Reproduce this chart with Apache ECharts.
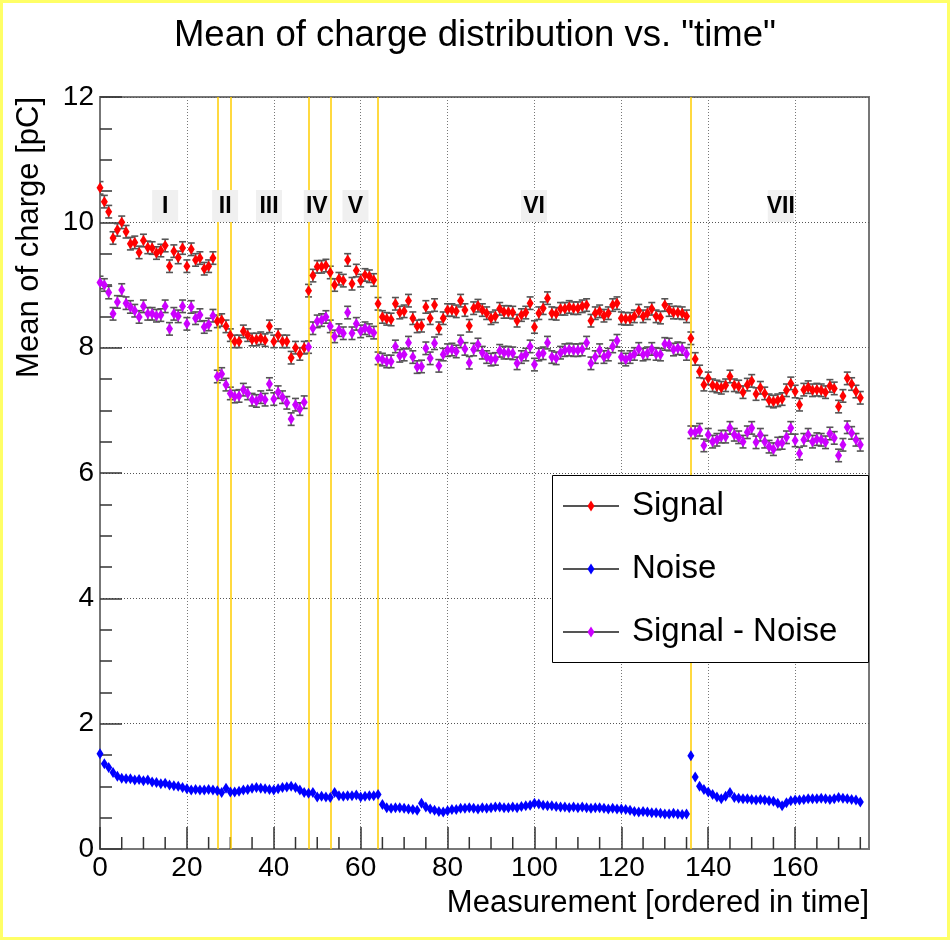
<!DOCTYPE html>
<html><head><meta charset="utf-8">
<script src="https://cdn.jsdelivr.net/npm/echarts@6/dist/echarts.min.js"></script>
<style>
html,body{margin:0;padding:0;background:#fff;}
#wrap{position:relative;width:950px;height:940px;}
#c{width:950px;height:940px;}
#frame{position:absolute;left:0;top:0;width:950px;height:940px;box-sizing:border-box;border:3px solid #ffff66;pointer-events:none;}
</style>
</head><body>
<div id="wrap"><div id="c"></div><div id="frame"></div></div>
<script>
// ---------------- data ----------------
const signal = [
  10.55,10.33,10.17,9.75,9.88,10.0,9.85,9.66,9.68,9.52,9.71,9.6,9.59,9.51,9.55,9.63,9.3,9.54,9.44,9.59,9.3,9.57,9.4,9.43,9.26,9.3,9.43,
  8.42,8.44,8.34,8.2,8.1,8.1,8.26,8.2,8.13,8.13,8.15,8.12,8.34,8.1,8.2,8.1,8.1,7.84,8.0,7.9,8.0,
  8.91,9.15,9.29,9.29,9.31,9.2,9.0,9.1,9.07,9.4,9.02,9.23,9.07,9.16,9.14,9.08,
  8.7,8.49,8.46,8.45,8.7,8.56,8.58,8.75,8.47,8.34,8.35,8.65,8.47,8.68,8.31,8.47,8.6,8.6,8.58,8.75,8.6,8.35,8.63,8.67,8.6,
  8.55,8.47,8.5,8.62,8.57,8.57,8.56,8.43,8.52,8.56,8.71,8.33,8.55,8.63,8.79,8.55,8.54,8.62,8.62,8.65,8.63,8.63,8.66,8.68,8.43,8.55,8.58,8.51,8.55,8.68,8.71,8.47,8.46,8.46,8.5,8.59,8.5,8.55,8.62,8.5,8.48,8.68,8.6,8.56,8.56,8.55,8.5,
  8.15,7.82,7.62,7.41,7.51,7.4,7.38,7.36,7.4,7.54,7.4,7.38,7.29,7.41,7.47,7.26,7.36,7.27,7.16,7.14,7.16,7.18,7.32,7.43,7.3,7.09,7.33,7.37,7.32,7.33,7.32,7.29,7.39,7.35,7.06,7.23,7.51,7.42,7.3,7.2
];
const noise = [
  1.52,1.36,1.30,1.22,1.16,1.13,1.12,1.12,1.10,1.11,1.09,1.10,1.07,1.06,1.04,1.05,1.02,1.01,1.00,0.98,0.96,0.94,0.95,0.94,0.94,0.95,0.94,
  0.93,0.90,0.97,0.91,0.91,0.92,0.94,0.95,0.97,0.98,0.97,0.96,0.95,0.94,0.96,0.98,0.99,1.00,0.98,0.94,0.90,
  0.89,0.90,0.83,0.84,0.83,0.82,0.90,0.85,0.84,0.85,0.85,0.86,0.83,0.84,0.85,0.85,
  0.87,0.71,0.66,0.65,0.66,0.66,0.65,0.64,0.63,0.62,0.73,0.67,0.64,0.62,0.60,0.59,0.61,0.63,0.63,0.65,0.65,0.66,0.65,0.64,0.66,
  0.65,0.66,0.67,0.67,0.66,0.66,0.67,0.66,0.68,0.69,0.70,0.73,0.72,0.70,0.69,0.69,0.68,0.67,0.67,0.66,0.67,0.66,0.67,0.66,0.65,0.66,0.66,0.65,0.64,0.65,0.64,
  0.64,0.63,0.62,0.60,0.59,0.60,0.59,0.58,0.58,0.57,0.56,0.56,0.57,0.56,0.55,0.56,
  1.49,1.15,1.00,0.95,0.91,0.87,0.83,0.80,0.84,0.90,0.82,0.81,0.80,0.80,0.79,0.78,0.79,0.78,0.77,0.76,0.73,0.69,0.74,0.77,0.78,0.78,0.79,0.80,0.80,0.80,0.81,0.80,0.79,0.80,0.82,0.81,0.80,0.79,0.78,0.75
];
const signalMinusNoise = [
  9.04,9.0,8.88,8.54,8.73,8.92,8.71,8.65,8.59,8.49,8.66,8.54,8.54,8.51,8.52,8.66,8.3,8.54,8.5,8.66,8.38,8.65,8.47,8.52,8.33,8.37,8.51,
  7.54,7.58,7.41,7.27,7.22,7.23,7.33,7.27,7.17,7.15,7.21,7.17,7.42,7.18,7.29,7.21,7.12,6.86,7.09,7.02,7.13,
  8.01,8.31,8.42,8.44,8.49,8.34,8.18,8.28,8.23,8.56,8.23,8.38,8.26,8.31,8.28,8.24,
  7.83,7.81,7.78,7.78,8.02,7.87,7.89,8.08,7.85,7.69,7.7,7.99,7.83,8.07,7.71,7.89,7.96,7.97,7.94,8.1,7.98,7.76,7.97,8.05,7.92,
  7.85,7.81,7.82,7.95,7.92,7.92,7.91,7.75,7.85,7.89,8.02,7.73,7.89,7.91,8.08,7.85,7.83,7.92,7.96,7.97,7.96,7.96,7.97,8.08,7.75,7.85,7.96,7.85,7.89,8.02,8.11,7.85,7.81,7.85,7.9,7.98,7.89,7.91,7.98,7.9,7.89,8.06,8.05,7.97,7.99,7.98,7.9,
  6.65,6.65,6.69,6.44,6.61,6.5,6.53,6.58,6.58,6.72,6.61,6.57,6.5,6.65,6.72,6.49,6.61,6.5,6.42,6.38,6.47,6.48,6.57,6.72,6.52,6.31,6.53,6.61,6.5,6.54,6.53,6.49,6.63,6.56,6.28,6.45,6.73,6.64,6.53,6.45
];
const signalErr = 0.1;
const diffErr = 0.1;
const periodBoundaries = [27, 30, 48, 53, 64, 136];
const periodNames = ['I', 'II', 'III', 'IV', 'V', 'VI', 'VII'];
const periodLabelX = [15, 28.8, 38.9, 49.9, 58.8, 99.9, 156.7];
const periodLabelY = 10.26;
const xTicks = [0, 20, 40, 60, 80, 100, 120, 140, 160];
const xMinorTicks = [5,10,15,25,30,35,45,50,55,65,70,75,85,90,95,105,110,115,125,130,135,145,150,155,165,170,175];
const yTicks = [0, 2, 4, 6, 8, 10, 12];
const legendNames = ['Signal', 'Noise', 'Signal - Noise'];

// ---------------- chart ----------------
const FONT = '"Liberation Sans", Arial, Helvetica, sans-serif';
const colors = {signal: '#ff0000', noise: '#0000ff', diff: '#cc00ff'};
const measurement = signal.map((_, i) => i);

function pts(vals) { return vals.map((v, i) => [measurement[i], v]); }
function errPts(vals, e) { return vals.map((v, i) => [measurement[i], v, v - e, v + e]); }

function renderErr(params, api) {
  const x = api.value(0);
  const p1 = api.coord([x, api.value(2)]);
  const p2 = api.coord([x, api.value(3)]);
  const cap = 3.5;
  const st = {stroke: '#555', lineWidth: 1.6};
  return {type: 'group', children: [
    {type: 'line', shape: {x1: p1[0], y1: p1[1], x2: p2[0], y2: p2[1]}, style: st},
    {type: 'line', shape: {x1: p1[0] - cap, y1: p1[1], x2: p1[0] + cap, y2: p1[1]}, style: st},
    {type: 'line', shape: {x1: p2[0] - cap, y1: p2[1], x2: p2[0] + cap, y2: p2[1]}, style: st}
  ]};
}
function renderMinorTick(params, api) {
  const p = api.coord([api.value(0), 0]);
  return {type: 'line', shape: {x1: p[0], y1: p[1], x2: p[0], y2: p[1] - 12}, style: {stroke: '#333', lineWidth: 1.5}};
}
function renderPeriod(params, api) {
  const p = api.coord([api.value(0), api.value(1)]);
  return {type: 'group', children: [
    {type: 'rect', shape: {x: p[0] - 13, y: p[1] - 16, width: 26, height: 32}, style: {fill: '#f0f0f0'}},
    {type: 'text', x: p[0], y: p[1] + 1, style: {text: periodNames[params.dataIndex], font: 'bold 23px ' + FONT, fill: '#000', textAlign: 'center', textVerticalAlign: 'middle'}}
  ]};
}

const chart = echarts.init(document.getElementById('c'), null, {renderer: 'canvas'});

const GL = 100, GR = 81, GT = 97, GB = 91;

function diamond(cx, cy, w, h) {
  return [[cx, cy - h / 2], [cx + w / 2, cy], [cx, cy + h / 2], [cx - w / 2, cy]];
}
const legendColors = [colors.signal, colors.noise, colors.diff];
const legendYs = [506, 569, 632];
const legendGraphics = [
  {type: 'rect', shape: {x: 552.5, y: 475.5, width: 316, height: 187}, style: {fill: '#fff', stroke: '#000', lineWidth: 1}, z: 100}
];
legendNames.forEach((n, k) => {
  const y = legendYs[k];
  legendGraphics.push({type: 'line', shape: {x1: 563, y1: y, x2: 619, y2: y}, style: {stroke: '#555', lineWidth: 2}, z: 101});
  legendGraphics.push({type: 'polygon', shape: {points: diamond(591, y, 7, 11)}, style: {fill: legendColors[k]}, z: 102});
  legendGraphics.push({type: 'text', x: 632, y: y, style: {text: n, font: '33px ' + FONT, fill: '#000', textAlign: 'left', textVerticalAlign: 'middle'}, z: 102});
});

const option = {
  backgroundColor: '#fff',
  animation: false,
  title: {
    text: 'Mean of charge distribution vs. "time"',
    left: 'center', top: 12,
    textStyle: {fontFamily: FONT, fontSize: 36.5, fontWeight: 'normal', color: '#000'}
  },
  grid: {left: GL, right: GR, top: GT, bottom: GB, show: true, borderColor: '#777', borderWidth: 2, backgroundColor: 'transparent'},
  xAxis: {
    type: 'value', min: 0, max: 177, interval: 20,
    axisLine: {show: true, onZero: false, lineStyle: {color: '#777', width: 2}},
    axisTick: {show: true, inside: true, length: 22, lineStyle: {color: '#333', width: 1.5}},
    axisLabel: {fontFamily: FONT, fontSize: 28, color: '#000', margin: 5, showMaxLabel: false,
      formatter: v => (xTicks.indexOf(v) >= 0 ? String(v) : '')},
    splitLine: {show: true, lineStyle: {type: [1, 2], color: '#777', width: 1}}
  },
  yAxis: {
    type: 'value', min: 0, max: 12, interval: 2,
    axisLine: {show: true, onZero: false, lineStyle: {color: '#777', width: 2}},
    axisTick: {show: true, inside: true, length: 22, lineStyle: {color: '#333', width: 1.5}},
    minorTick: {show: true, splitNumber: 4, length: 12, lineStyle: {color: '#333', width: 1.5}},
    axisLabel: {fontFamily: FONT, fontSize: 28, color: '#000', margin: 6,
      formatter: v => (yTicks.indexOf(v) >= 0 ? String(v) : '')},
    splitLine: {show: true, lineStyle: {type: [1, 2], color: '#555', width: 1}}
  },
  graphic: [
    {type: 'text', x: 869, y: 903, style: {text: 'Measurement [ordered in time]', font: '31px ' + FONT, fill: '#000', textAlign: 'right', textVerticalAlign: 'middle'}},
    {type: 'text', x: 29, y: 97, rotation: Math.PI / 2, style: {text: 'Mean of charge [pC]', font: '31px ' + FONT, fill: '#000', textAlign: 'right', textVerticalAlign: 'middle'}}
  ].concat(legendGraphics),
  series: [
    {
      type: 'line', data: [], silent: true,
      markLine: {
        silent: true, symbol: 'none', animation: false,
        label: {show: false},
        lineStyle: {color: '#ffcc00', width: 1.5, type: 'solid'},
        data: periodBoundaries.map(b => ({xAxis: b}))
      }
    },
    {type: 'custom', renderItem: renderMinorTick, data: xMinorTicks.map(v => [v]), z: 2, silent: true, clip: false},
    {type: 'custom', renderItem: renderErr, data: errPts(signal, signalErr), z: 3, silent: true, clip: true},
    {type: 'custom', renderItem: renderErr, data: errPts(signalMinusNoise, diffErr), z: 3, silent: true, clip: true},
    {type: 'scatter', name: 'Signal', data: pts(signal), symbol: 'diamond', symbolSize: [7, 11], itemStyle: {color: colors.signal, opacity: 1}, z: 5, silent: true},
    {type: 'scatter', name: 'Noise', data: pts(noise), symbol: 'diamond', symbolSize: [7, 11], itemStyle: {color: colors.noise, opacity: 1}, z: 5, silent: true},
    {type: 'scatter', name: 'Signal - Noise', data: pts(signalMinusNoise), symbol: 'diamond', symbolSize: [7, 11], itemStyle: {color: colors.diff, opacity: 1}, z: 5, silent: true},
    {type: 'custom', renderItem: renderPeriod, silent: true, z: 6, clip: false,
      data: periodNames.map((n, k) => [periodLabelX[k], periodLabelY])}
  ]
};
chart.setOption(option);
</script>
</body></html>
